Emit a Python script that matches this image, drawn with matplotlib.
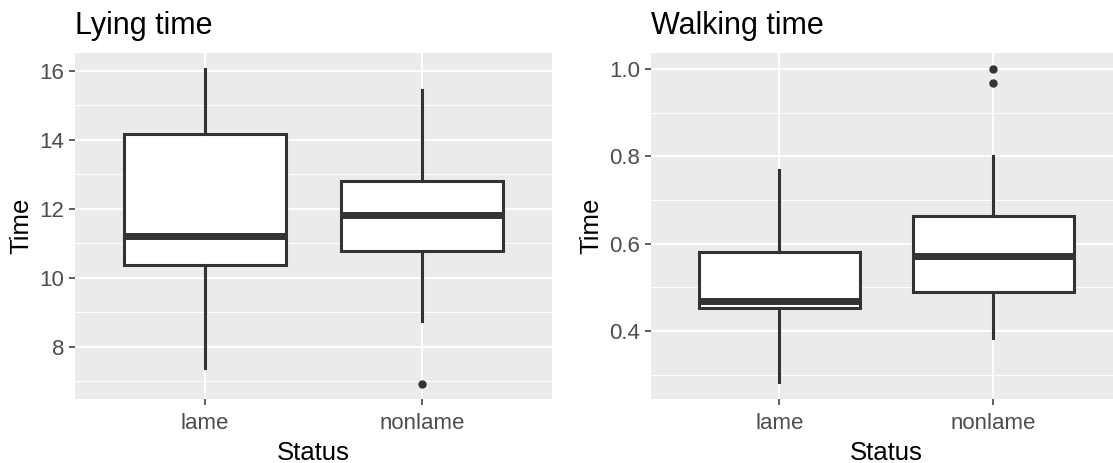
import numpy as np
import matplotlib
matplotlib.use('Agg')
from matplotlib import pyplot as plt
from matplotlib.ticker import MultipleLocator

plt.rcParams['font.family'] = ['Liberation Sans', 'DejaVu Sans']

status = ['lame', 'nonlame']

# Lying time box stats
lying_whislo = [7.40, 8.75]
lying_q1 = [10.38, 10.79]
lying_med = [11.22, 11.83]
lying_q3 = [14.17, 12.81]
lying_whishi = [16.05, 15.45]
lying_fliers = [[], [6.93]]

# Walking time box stats
walk_whislo = [0.282, 0.384]
walk_q1 = [0.452, 0.489]
walk_med = [0.469, 0.571]
walk_q3 = [0.581, 0.664]
walk_whishi = [0.769, 0.800]
walk_fliers = [[], [1.0, 0.969]]

dark = '#333333'


def make_stats(lo, q1, med, q3, hi, fliers):
    stats = []
    for i in range(len(status)):
        stats.append({'label': status[i], 'whislo': lo[i], 'q1': q1[i], 'med': med[i],
                      'q3': q3[i], 'whishi': hi[i], 'fliers': fliers[i]})
    return stats


def style_axes(ax, title, ylim, major, minor, fmt):
    ax.set_facecolor('#EBEBEB')
    for s in ax.spines.values():
        s.set_visible(False)
    ax.set_xlim(0.4, 2.6)
    ax.set_ylim(*ylim)
    ax.yaxis.set_major_locator(MultipleLocator(major))
    ax.yaxis.set_minor_locator(MultipleLocator(minor))
    ax.grid(True, which='major', color='white', linewidth=1.4)
    ax.grid(True, which='minor', axis='y', color='white', linewidth=0.7)
    ax.set_axisbelow(True)
    ax.set_xticks([1, 2])
    ax.set_xticklabels(status)
    ax.yaxis.set_major_formatter(fmt)
    ax.tick_params(which='major', length=4, width=1.1, color=dark, labelcolor='#4D4D4D',
                   labelsize=16, pad=4)
    ax.tick_params(axis='x', pad=6)
    ax.tick_params(which='minor', length=0)
    ax.set_xlabel('Status', fontsize=18.5, color='black', labelpad=5)
    ax.set_ylabel('Time', fontsize=18.5, color='black', labelpad=4)
    ax.set_title(title, loc='left', fontsize=22, pad=14)


def draw_box(ax, stats):
    ax.bxp(stats, positions=[1, 2], widths=0.75, patch_artist=True, showcaps=False,
           boxprops=dict(facecolor='white', edgecolor=dark, linewidth=2.2),
           whiskerprops=dict(color=dark, linewidth=2.2),
           medianprops=dict(color=dark, linewidth=5.0, solid_capstyle='butt'),
           flierprops=dict(marker='o', markerfacecolor=dark, markeredgecolor=dark,
                           markersize=5, linestyle='none'),
           zorder=3)


fig = plt.figure(figsize=(11.13, 4.63), dpi=100)
ax1 = fig.add_axes([0.0674, 0.1382, 0.4286, 0.7473])
ax2 = fig.add_axes([0.5849, 0.1382, 0.4229, 0.7473])

draw_box(ax1, make_stats(lying_whislo, lying_q1, lying_med, lying_q3, lying_whishi, lying_fliers))
style_axes(ax1, 'Lying time', (6.49, 16.52), 2, 1, plt.FormatStrFormatter('%d'))

draw_box(ax2, make_stats(walk_whislo, walk_q1, walk_med, walk_q3, walk_whishi, walk_fliers))
style_axes(ax2, 'Walking time', (0.244, 1.037), 0.2, 0.1, plt.FormatStrFormatter('%.1f'))

fig.savefig('out.png', dpi=100)
